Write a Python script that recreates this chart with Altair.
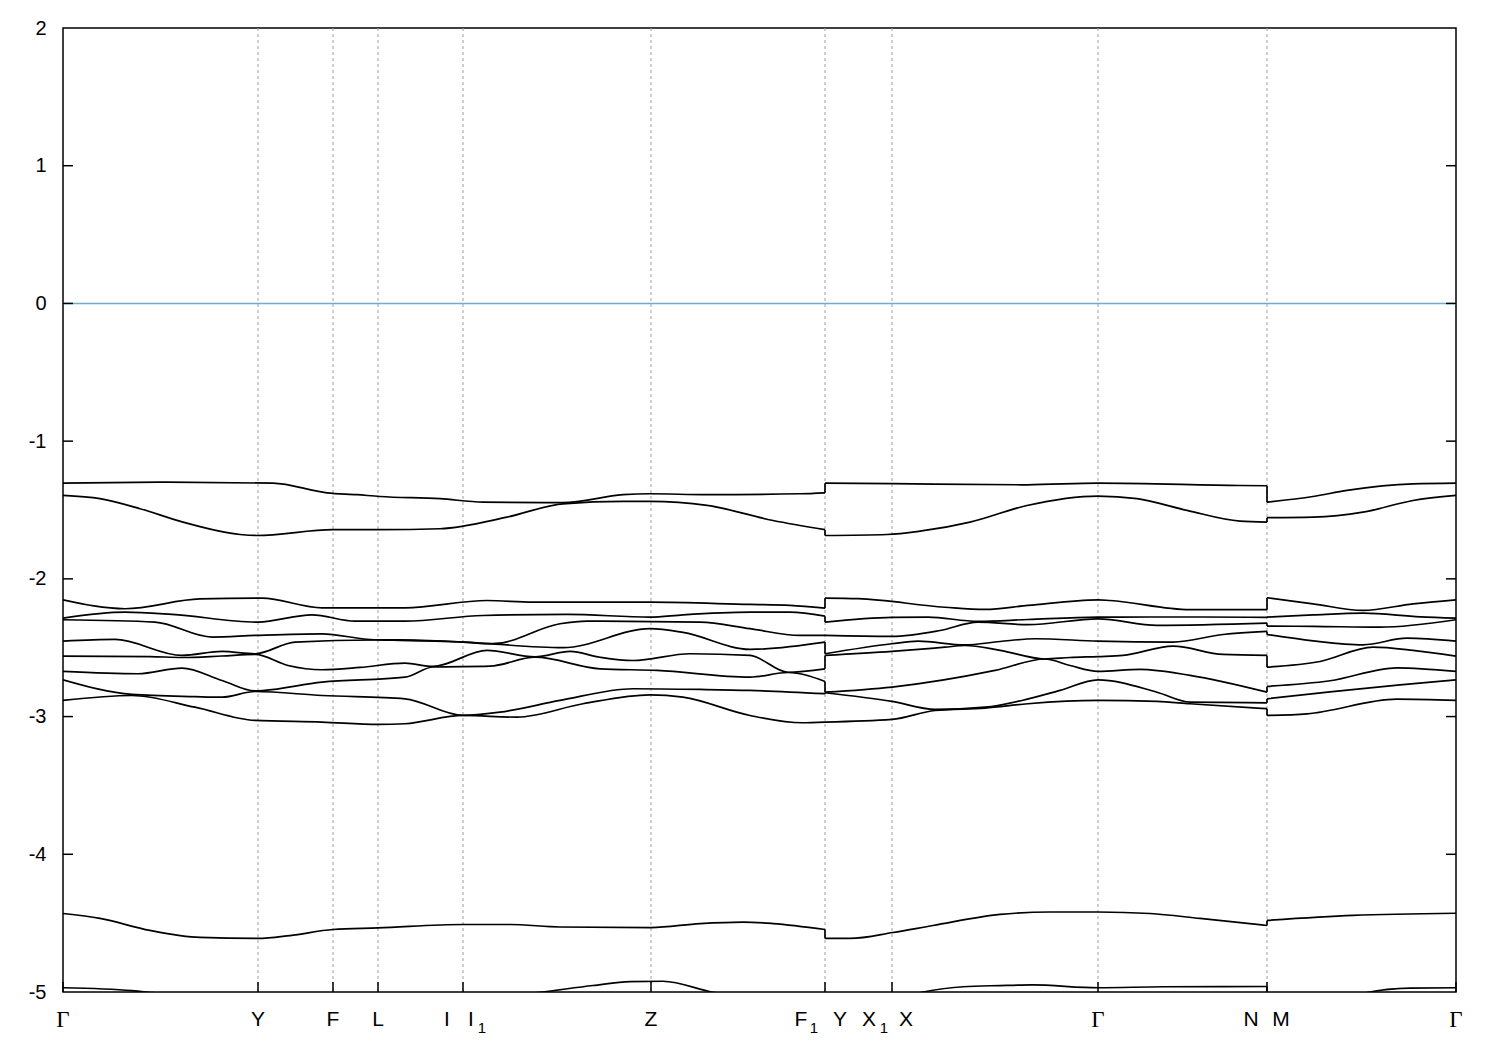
import altair as alt
import pandas as pd

# high-symmetry points along the k-path (path-length units)
K_POINTS = [0, 195, 270, 315, 400, 588, 762, 829, 1035, 1204, 1393]
GRID_K = [195, 270, 315, 400, 588, 762, 829, 1035, 1204]
Y_TICKS = [-5, -4, -3, -2, -1, 0, 1, 2]
Y_MINOR = [-4, -3, -2, -1, 0, 1]

LABEL_TEXT = ["Y", "F", "L", "I", "I", "Z", "F", "Y", "X", "X", "N", "M"]
LABEL_K = [195, 270, 315, 400, 400, 588, 762, 762, 829, 829, 1204, 1204]
LABEL_DX = [0, 0, 0, -16, 8, 0, -24, 15, -23, 14, -16, 14]
GAMMA_K = [0, 1035, 1393]
SUB_TEXT = ["1", "1", "1"]
SUB_K = [400, 762, 829]
SUB_DX = [19, -11, -8]

FERMI = [0.0]

# bands: (segment, k, energy eV)
B1 = [(1,0,-1.305),(1,104,-1.298),(1,210,-1.305),(1,264,-1.375),(1,294,-1.389),(1,317,-1.402),(1,377,-1.418),(1,420,-1.443),(1,500,-1.447),(1,560,-1.389),(1,587,-1.382),(1,644,-1.389),(1,737,-1.382),(1,762,-1.375),
      (2,762,-1.305),(2,830,-1.309),(2,964,-1.317),(2,1035,-1.305),(2,1177,-1.322),(2,1204,-1.324),
      (3,1204,-1.443),(3,1250,-1.402),(3,1284,-1.358),(3,1350,-1.310),(3,1393,-1.305)]
B2 = [(1,0,-1.394),(1,37,-1.418),(1,77,-1.491),(1,120,-1.588),(1,177,-1.678),(1,194,-1.685),(1,270,-1.643),(1,317,-1.643),(1,377,-1.636),(1,444,-1.552),(1,500,-1.455),(1,560,-1.438),(1,587,-1.438),(1,644,-1.467),(1,710,-1.576),(1,762,-1.643),
      (2,762,-1.685),(2,824,-1.678),(2,857,-1.654),(2,907,-1.588),(2,964,-1.467),(2,1035,-1.399),(2,1074,-1.418),(2,1124,-1.503),(2,1177,-1.581),(2,1204,-1.588),
      (3,1204,-1.556),(3,1250,-1.552),(3,1300,-1.516),(3,1350,-1.431),(3,1393,-1.394)]
B3 = [(1,0,-2.152),(1,62,-2.217),(1,137,-2.146),(1,199,-2.140),(1,259,-2.210),(1,342,-2.210),(1,424,-2.157),(1,470,-2.169),(1,587,-2.169),(1,687,-2.186),(1,727,-2.193),(1,762,-2.213),
      (2,762,-2.140),(2,795,-2.144),(2,882,-2.206),(2,922,-2.222),(2,965,-2.193),(2,1035,-2.152),(2,1047,-2.157),(2,1127,-2.224),(2,1204,-2.224),
      (3,1204,-2.137),(3,1250,-2.181),(3,1300,-2.229),(3,1350,-2.181),(3,1393,-2.152)]
B4 = [(1,0,-2.285),(1,62,-2.242),(1,109,-2.258),(1,195,-2.314),(1,249,-2.261),(1,292,-2.307),(1,342,-2.307),(1,420,-2.266),(1,504,-2.258),(1,587,-2.278),(1,620,-2.261),(1,687,-2.242),(1,727,-2.242),(1,762,-2.271),
      (2,762,-2.314),(2,829,-2.280),(2,865,-2.278),(2,915,-2.309),(2,965,-2.295),(2,1035,-2.278),(2,1087,-2.277),(2,1137,-2.277),(2,1204,-2.280),
      (3,1204,-2.278),(3,1250,-2.262),(3,1300,-2.249),(3,1357,-2.276),(3,1393,-2.285)]
B5 = [(1,0,-2.297),(1,92,-2.314),(1,149,-2.423),(1,192,-2.411),(1,259,-2.399),(1,312,-2.442),(1,337,-2.442),(1,400,-2.459),(1,430,-2.471),(1,497,-2.326),(1,524,-2.307),(1,637,-2.314),(1,687,-2.362),(1,737,-2.411),(1,762,-2.411),
      (2,762,-2.411),(2,829,-2.418),(2,877,-2.375),(2,915,-2.314),(2,965,-2.333),(2,1035,-2.290),(2,1094,-2.338),(2,1204,-2.322),
      (3,1204,-2.343),(3,1250,-2.345),(3,1317,-2.351),(3,1393,-2.297)]
B6 = [(1,0,-2.452),(1,52,-2.440),(1,119,-2.556),(1,159,-2.527),(1,192,-2.544),(1,232,-2.459),(1,312,-2.444),(1,337,-2.447),(1,400,-2.459),(1,500,-2.500),(1,587,-2.362),(1,620,-2.389),(1,687,-2.512),(1,762,-2.459),
      (2,762,-2.544),(2,829,-2.471),(2,855,-2.452),(2,902,-2.480),(2,937,-2.455),(2,972,-2.435),(2,1035,-2.452),(2,1110,-2.459),(2,1160,-2.404),(2,1204,-2.382),
      (3,1204,-2.404),(3,1250,-2.450),(3,1300,-2.479),(3,1344,-2.431),(3,1393,-2.452)]
B7 = [(1,0,-2.561),(1,87,-2.564),(1,119,-2.571),(1,159,-2.560),(1,192,-2.549),(1,225,-2.629),(1,259,-2.660),(1,297,-2.643),(1,342,-2.612),(1,370,-2.636),(1,424,-2.519),(1,472,-2.567),(1,507,-2.527),(1,537,-2.569),(1,570,-2.593),(1,627,-2.544),(1,687,-2.556),(1,725,-2.678),(1,762,-2.653),
      (2,762,-2.556),(2,829,-2.527),(2,882,-2.496),(2,902,-2.484),(2,937,-2.519),(2,982,-2.582),(2,1007,-2.571),(2,1035,-2.564),(2,1060,-2.556),(2,1110,-2.489),(2,1160,-2.549),(2,1204,-2.556),
      (3,1204,-2.641),(3,1257,-2.600),(3,1310,-2.496),(3,1350,-2.519),(3,1393,-2.561)]
B8 = [(1,0,-2.672),(1,75,-2.689),(1,119,-2.648),(1,159,-2.738),(1,192,-2.814),(1,259,-2.750),(1,342,-2.714),(1,370,-2.640),(1,427,-2.634),(1,472,-2.569),(1,537,-2.653),(1,594,-2.665),(1,687,-2.714),(1,725,-2.680),(1,762,-2.745),
      (2,762,-2.823),(2,829,-2.786),(2,932,-2.665),(2,982,-2.582),(2,1007,-2.629),(2,1035,-2.672),(2,1077,-2.658),(2,1127,-2.701),(2,1204,-2.823),
      (3,1204,-2.781),(3,1267,-2.740),(3,1334,-2.646),(3,1393,-2.672)]
B9 = [(1,0,-2.733),(1,69,-2.839),(1,132,-2.855),(1,159,-2.859),(1,192,-2.818),(1,259,-2.847),(1,342,-2.871),(1,400,-2.992),(1,437,-2.968),(1,497,-2.883),(1,570,-2.798),(1,637,-2.803),(1,687,-2.810),(1,762,-2.834),
      (2,762,-2.827),(2,829,-2.890),(2,872,-2.948),(2,922,-2.932),(2,959,-2.883),(2,997,-2.810),(2,1035,-2.733),(2,1094,-2.823),(2,1127,-2.895),(2,1204,-2.900),
      (3,1204,-2.871),(3,1267,-2.820),(3,1337,-2.770),(3,1393,-2.733)]
B10 = [(1,0,-2.883),(1,69,-2.847),(1,132,-2.932),(1,192,-3.028),(1,259,-3.040),(1,315,-3.057),(1,342,-3.052),(1,400,-2.992),(1,454,-3.004),(1,520,-2.907),(1,587,-2.842),(1,620,-2.859),(1,687,-2.992),(1,739,-3.045),(1,762,-3.040),
       (2,762,-3.040),(2,829,-3.021),(2,872,-2.956),(2,922,-2.938),(2,965,-2.907),(2,1035,-2.883),(2,1094,-2.890),(2,1127,-2.907),(2,1204,-2.943),
       (3,1204,-2.992),(3,1244,-2.980),(3,1334,-2.874),(3,1393,-2.883)]
B11 = [(1,0,-4.430),(1,37,-4.466),(1,87,-4.553),(1,137,-4.604),(1,195,-4.611),(1,227,-4.590),(1,270,-4.546),(1,315,-4.535),(1,400,-4.510),(1,447,-4.510),(1,497,-4.528),(1,588,-4.532),(1,637,-4.503),(1,680,-4.492),(1,710,-4.503),(1,762,-4.546),
       (2,762,-4.611),(2,787,-4.611),(2,830,-4.568),(2,870,-4.517),(2,937,-4.437),(2,987,-4.419),(2,1035,-4.419),(2,1087,-4.430),(2,1137,-4.466),(2,1204,-4.517),
       (3,1204,-4.480),(3,1290,-4.444),(3,1393,-4.428)]
B12 = [(1,0,-4.969),(1,69,-4.990),(1,90,-5.005),(1,195,-5.08),(1,300,-5.09),(1,400,-5.06),(1,477,-5.002),(1,530,-4.953),(1,567,-4.924),(1,600,-4.922),(1,650,-5.002),(1,762,-5.08),
       (2,762,-5.12),(2,830,-5.06),(2,859,-5.002),(2,900,-4.962),(2,937,-4.953),(2,969,-4.948),(2,1035,-4.969),(2,1100,-4.962),(2,1204,-4.960),
       (3,1204,-5.10),(3,1280,-5.05),(3,1304,-5.004),(3,1347,-4.972),(3,1393,-4.969)]

BANDS = [B1, B2, B3, B4, B5, B6, B7, B8, B9, B10, B11, B12]

W, H = 1393, 964
XS = alt.Scale(domain=[0, 1393], nice=False, zero=False)
YS = alt.Scale(domain=[-5, 2], nice=False, zero=False)

rows = []
jumps = []
for i, band in enumerate(BANDS):
    for seg, k, e in band:
        rows.append({"line": f"b{i}_s{seg}", "k": k, "E": e})
    # vertical jump where one path segment ends and the next begins
    for s in (1, 2):
        end = [p for p in band if p[0] == s][-1]
        start = [p for p in band if p[0] == s + 1][0]
        jumps.append({"k": start[1], "E": end[2], "E2": start[2]})
df = pd.DataFrame(rows)
jdf = pd.DataFrame(jumps)

grid = alt.Chart(pd.DataFrame({"k": GRID_K})).mark_rule(
    color="#a0a0a0", strokeWidth=1, strokeDash=[3, 3]
).encode(x=alt.X("k:Q", scale=XS, axis=None))

fermi = alt.Chart(pd.DataFrame({"E": FERMI})).mark_rule(
    color="#56B4E9", strokeWidth=1.6
).encode(y=alt.Y("E:Q", scale=YS), x=alt.value(0), x2=alt.value(W))

bands = alt.Chart(df).mark_line(
    color="black", strokeWidth=1.7, interpolate="monotone", clip=True
).encode(
    x=alt.X("k:Q", scale=XS, axis=None),
    y=alt.Y("E:Q", scale=YS, axis=alt.Axis(
        values=Y_TICKS, ticks=False, domain=False, grid=False, title=None,
        labelExpr="'' + datum.value",
        labelFont="Liberation Sans", labelFontSize=20, labelColor="black",
        labelPadding=17)),
    detail="line:N",
    order="k:Q",
)

jump_rules = alt.Chart(jdf).mark_rule(color="black", strokeWidth=1.7, clip=True).encode(
    x=alt.X("k:Q", scale=XS), y=alt.Y("E:Q", scale=YS), y2="E2:Q")

kt = pd.DataFrame({"k": K_POINTS})
bot_ticks = alt.Chart(kt).mark_rule(color="black", strokeWidth=1.5).encode(
    x=alt.X("k:Q", scale=XS), y=alt.value(H - 10), y2=alt.value(H))

yt = pd.DataFrame({"E": Y_MINOR})
left_ticks = alt.Chart(yt).mark_rule(color="black", strokeWidth=1.5).encode(
    y=alt.Y("E:Q", scale=YS), x=alt.value(0), x2=alt.value(10))
right_ticks = alt.Chart(yt).mark_rule(color="black", strokeWidth=1.5).encode(
    y=alt.Y("E:Q", scale=YS), x=alt.value(W - 10), x2=alt.value(W))

lab_df = pd.DataFrame({"t": LABEL_TEXT, "k": LABEL_K, "dx": LABEL_DX})
lab_df["kx"] = lab_df["k"] + lab_df["dx"]
labels = alt.Chart(lab_df).mark_text(
    font="Liberation Sans", fontSize=21, baseline="middle", align="center", color="black"
).encode(x=alt.X("kx:Q", scale=XS), y=alt.value(H + 28), text="t:N")

gammas = alt.Chart(pd.DataFrame({"k": GAMMA_K, "t": ["Γ"] * len(GAMMA_K)})).mark_text(
    font="Liberation Serif", fontSize=23, baseline="middle", align="center", color="black"
).encode(x=alt.X("k:Q", scale=XS), y=alt.value(H + 28), text="t:N")

sub_df = pd.DataFrame({"t": SUB_TEXT, "k": SUB_K, "dx": SUB_DX})
sub_df["kx"] = sub_df["k"] + sub_df["dx"]
subs = alt.Chart(sub_df).mark_text(
    font="Liberation Sans", fontSize=15, baseline="middle", align="center", color="black"
).encode(x=alt.X("kx:Q", scale=XS), y=alt.value(H + 36), text="t:N")

chart = alt.layer(grid, fermi, bands, jump_rules, bot_ticks, left_ticks, right_ticks,
                  labels, gammas, subs).properties(
    width=W, height=H,
    padding={"left": 55, "top": 20, "right": 30, "bottom": 50},
    autosize=alt.AutoSizeParams(type="none"),
).configure_view(stroke="black", strokeWidth=1.5)

chart.save("out.html", embed_options={"renderer": "svg", "actions": False})
